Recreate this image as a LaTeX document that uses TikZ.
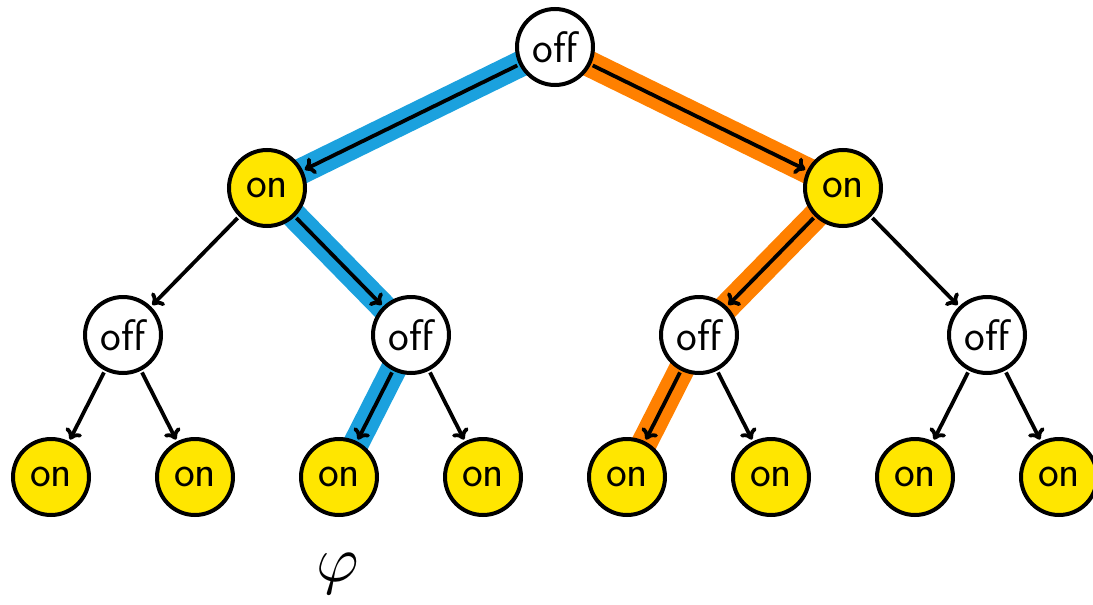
\documentclass[tikz,border=0pt]{standalone}
\usetikzlibrary{arrows.meta,backgrounds}
\definecolor{hlblue}{RGB}{27,161,222}
\definecolor{hlorange}{RGB}{255,128,0}
\definecolor{onyellow}{RGB}{255,230,0}
\begin{document}
\begin{tikzpicture}[x=1pt,y=-1pt,
  st/.style={circle,draw=black,line width=4pt,minimum size=76pt,inner sep=0pt,outer sep=4pt,
    font=\fontsize{44}{48}\selectfont\sffamily},
  offn/.style={st,fill=white},
  onn/.style={st,fill=onyellow},
  edge/.style={line width=3.8pt,-{To[length=10pt,width=18pt]}},
  band/.style={line width=26pt,line cap=butt}]
\useasboundingbox (0,0) rectangle (1093,605);
\node[offn] (r) at (555,47) {off};
\node[onn] (a) at (267,188) {on};
\node[onn] (b) at (843,188) {on};
\node[offn] (a1) at (123,335) {off};
\node[offn] (a2) at (411,335) {off};
\node[offn] (b1) at (699,335) {off};
\node[offn] (b2) at (987,335) {off};
\node[onn] (l1) at (51,477) {on};
\node[onn] (l2) at (195,477) {on};
\node[onn] (l3) at (339,477) {on};
\node[onn] (l4) at (483,477) {on};
\node[onn] (l5) at (627,477) {on};
\node[onn] (l6) at (771,477) {on};
\node[onn] (l7) at (915,477) {on};
\node[onn] (l8) at (1059,477) {on};
\node[scale=6.5] (phi) at (338,574) {$\varphi$};
\begin{scope}[on background layer]
  \draw[band,hlblue] (r.center) -- (a.center) -- (a2.center) -- (l3.center);
  \draw[band,hlorange] (r.center) -- (b.center) -- (b1.center) -- (l5.center);
\end{scope}
\draw[edge] (r) -- (a);
\draw[edge] (r) -- (b);
\draw[edge] (a) -- (a1);
\draw[edge] (a) -- (a2);
\draw[edge] (b) -- (b1);
\draw[edge] (b) -- (b2);
\draw[edge] (a1) -- (l1);
\draw[edge] (a1) -- (l2);
\draw[edge] (a2) -- (l3);
\draw[edge] (a2) -- (l4);
\draw[edge] (b1) -- (l5);
\draw[edge] (b1) -- (l6);
\draw[edge] (b2) -- (l7);
\draw[edge] (b2) -- (l8);
\end{tikzpicture}
\end{document}
